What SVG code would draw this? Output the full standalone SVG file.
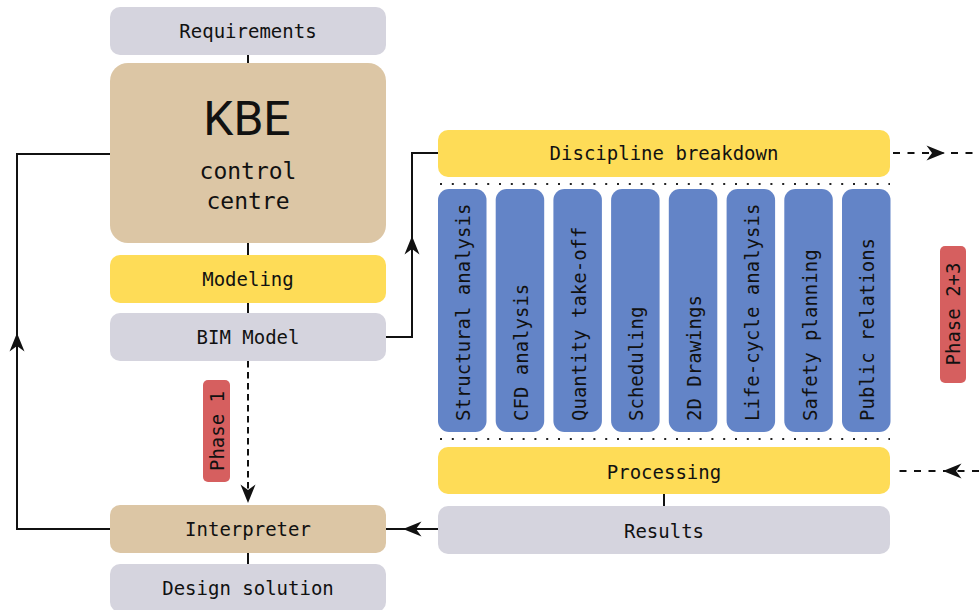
<svg xmlns="http://www.w3.org/2000/svg" xmlns:xlink="http://www.w3.org/1999/xlink" width="979" height="610" viewBox="0 0 979 610">
  <style>
    .t { font-family: "DejaVu Sans Mono", "Liberation Mono", monospace; font-size: 19px; fill: #111; }
    .c { text-anchor: middle; }
    .grey { fill: #d5d4de; }
    .tan { fill: #dcc6a5; }
    .yellow { fill: #fedc57; }
    .blue { fill: #6384c7; }
    .red { fill: #d65f5f; }
    .ln { fill: none; stroke: #111; stroke-width: 2; }
    .dash-h { stroke-dasharray: 7 7.5; }
    .dash-v { stroke-dasharray: 6.5 4.5; }
    .dots { fill: none; stroke: #222; stroke-width: 2; stroke-dasharray: 2 9.8; }
    .ah { fill: #111; }
  </style>
  <defs>
    <!-- arrowhead pointing along +x, tip at origin -->
    <path id="ah" d="M0,0 L-18.5,-7.5 L-13,0 L-18.5,7.5 Z"/>
  </defs>

  <rect width="979" height="610" fill="#fff"/>

  <!-- connectors -->
  <g id="connectors">
    <path class="ln" d="M248,55 V63"/>
    <path class="ln" d="M248,243 V255"/>
    <path class="ln" d="M248,303 V313"/>
    <path class="ln dash-v" d="M248,361 V490"/>
    <path class="ln" d="M248,553 V564"/>
    <path class="ln" d="M110,529 H17 V154 H110"/>
    <path class="ln" d="M386,337 H412 V153 H438"/>
    <path class="ln dash-h" d="M893,153 H979"/>
    <path class="ln dash-h" d="M979,471 H893"/>
    <path class="ln" d="M664,494 V506"/>
    <path class="ln" d="M438,529 H386"/>
    <path class="dots" d="M440,184 H890"/>
    <path class="dots" d="M440,439 H890"/>
    <use xlink:href="#ah" class="ah" transform="translate(248,503) rotate(90)"/>
    <use xlink:href="#ah" class="ah" transform="translate(17,333) rotate(-90)"/>
    <use xlink:href="#ah" class="ah" transform="translate(412,236) rotate(-90)"/>
    <use xlink:href="#ah" class="ah" transform="translate(945,153)"/>
    <use xlink:href="#ah" class="ah" transform="translate(943,471) rotate(180)"/>
    <use xlink:href="#ah" class="ah" transform="translate(403,529) rotate(180)"/>
  </g>

  <g id="requirements">
    <rect class="grey" x="110" y="7" width="276" height="48" rx="10"/>
    <text class="t c" x="248" y="38">Requirements</text>
  </g>

  <g id="kbe">
    <rect class="tan" x="110" y="63" width="276" height="180" rx="18"/>
    <text x="247" y="135" text-anchor="middle" font-family="Roboto, 'Liberation Sans', sans-serif" font-size="48" fill="#111">KBE</text>
    <text class="t c" x="248" y="179" style="font-size:23px">control</text>
    <text class="t c" x="248" y="209" style="font-size:23px">centre</text>
  </g>

  <g id="modeling">
    <rect class="yellow" x="110" y="255" width="276" height="48" rx="10"/>
    <text class="t c" x="248" y="286">Modeling</text>
  </g>

  <g id="bim-model">
    <rect class="grey" x="110" y="313" width="276" height="48" rx="10"/>
    <text class="t c" x="248" y="344">BIM Model</text>
  </g>

  <g id="phase-1">
    <rect class="red" x="203" y="380" width="27" height="102" rx="5"/>
    <text class="t c" transform="translate(224,431) rotate(-90)">Phase 1</text>
  </g>

  <g id="interpreter">
    <rect class="tan" x="110" y="505" width="276" height="48" rx="10"/>
    <text class="t c" x="248" y="536">Interpreter</text>
  </g>

  <g id="design-solution">
    <rect class="grey" x="110" y="564" width="276" height="48" rx="10"/>
    <text class="t c" x="248" y="595">Design solution</text>
  </g>

  <g id="discipline-breakdown">
    <rect class="yellow" x="438" y="130" width="452" height="47" rx="10"/>
    <text class="t c" x="664" y="160">Discipline breakdown</text>
  </g>

  <g id="disciplines">
    <g id="structural-analysis">
      <rect class="blue" x="438" y="189" width="48.5" height="243" rx="11"/>
      <text class="t" transform="translate(470.3,421) rotate(-90)">Structural analysis</text>
    </g>
    <g id="cfd-analysis">
      <rect class="blue" x="495.7" y="189" width="48.5" height="243" rx="11"/>
      <text class="t" transform="translate(528,421) rotate(-90)">CFD analysis</text>
    </g>
    <g id="quantity-take-off">
      <rect class="blue" x="553.4" y="189" width="48.5" height="243" rx="11"/>
      <text class="t" transform="translate(585.7,421) rotate(-90)">Quantity take-off</text>
    </g>
    <g id="scheduling">
      <rect class="blue" x="611.1" y="189" width="48.5" height="243" rx="11"/>
      <text class="t" transform="translate(643.4,421) rotate(-90)">Scheduling</text>
    </g>
    <g id="drawings-2d">
      <rect class="blue" x="668.8" y="189" width="48.5" height="243" rx="11"/>
      <text class="t" transform="translate(701.1,421) rotate(-90)">2D Drawings</text>
    </g>
    <g id="life-cycle-analysis">
      <rect class="blue" x="726.6" y="189" width="48.5" height="243" rx="11"/>
      <text class="t" transform="translate(758.9,421) rotate(-90)">Life-cycle analysis</text>
    </g>
    <g id="safety-planning">
      <rect class="blue" x="784.3" y="189" width="48.5" height="243" rx="11"/>
      <text class="t" transform="translate(816.6,421) rotate(-90)">Safety planning</text>
    </g>
    <g id="public-relations">
      <rect class="blue" x="842" y="189" width="48.5" height="243" rx="11"/>
      <text class="t" transform="translate(874.3,421) rotate(-90)">Public relations</text>
    </g>
  </g>

  <g id="phase-2-3">
    <rect class="red" x="940" y="246" width="26" height="137" rx="5"/>
    <text class="t c" transform="translate(960,314) rotate(-90)">Phase 2+3</text>
  </g>

  <g id="processing">
    <rect class="yellow" x="438" y="447" width="452" height="47" rx="10"/>
    <text class="t c" x="664" y="479">Processing</text>
  </g>

  <g id="results">
    <rect class="grey" x="438" y="506" width="452" height="48" rx="10"/>
    <text class="t c" x="664" y="538">Results</text>
  </g>
</svg>
